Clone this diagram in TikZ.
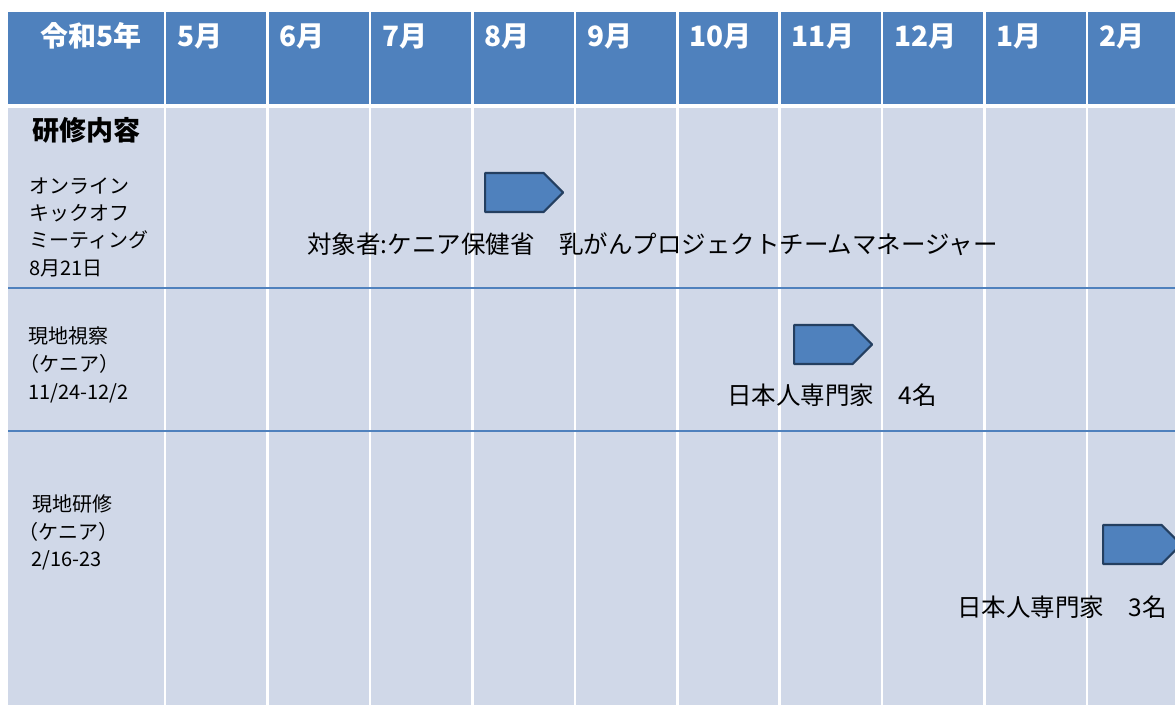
\documentclass[tikz,border=0pt]{standalone}
\usepackage{fontspec}
\setmainfont{Noto Sans CJK JP}
\usetikzlibrary{shapes.symbols}
\definecolor{hdr}{HTML}{4F81BD}
\definecolor{cell}{HTML}{D0D8E8}
\definecolor{edge}{HTML}{243F60}
\tikzset{
  hdrtxt/.style={text=white, font=\fontsize{28}{32}\selectfont\bfseries, inner sep=0pt},
  coltxt/.style={anchor=west, font=\fontsize{20}{24}\selectfont, inner sep=0pt},
  bigtxt/.style={anchor=west, font=\fontsize{24.5}{28}\selectfont, inner sep=0pt},
  bar/.style={signal, signal to=east, signal pointer angle=90, draw=edge, fill=hdr,
    line width=2.2pt, line join=round, minimum width=78pt, minimum height=39pt,
    inner sep=0pt, anchor=west},
  vsep/.style={white, line width=2.5pt},
  hsep/.style={hdr, line width=1.2pt}
}
\begin{document}
\begin{tikzpicture}[x=1pt,y=-1pt]
\useasboundingbox (0,0) rectangle (1175,704);
\fill[white] (0,0) rectangle (1175,704);
\fill[hdr] (8,12) rectangle (1185,104);
\fill[cell] (8,108) rectangle (1185,710);
\foreach \i in {0,...,9}
  \draw[vsep] ({165+102.45*\i},10) -- ({165+102.45*\i},710);
\draw[hsep] (8,288) -- (1185,288);
\draw[hsep] (8,431) -- (1185,431);

% header
\node[hdrtxt] (h0) at (91,36) {令和5年};
\foreach \m [count=\i from 0] in {5月,6月,7月,8月,9月,10月,11月,12月,1月,2月}
  \node[hdrtxt, anchor=west] (m\i) at ({165+102.45*\i+12},36) {\m};

% left column
\node[font=\fontsize{27}{30}\selectfont\bfseries, inner sep=0pt] (t0) at (86,130) {研修内容};
\node[coltxt] (a1) at (29,186) {オンライン};
\node[coltxt] (a2) at (29,213) {キックオフ};
\node[coltxt] (a3) at (29,240) {ミーティング};
\node[coltxt] (a4) at (29,268) {8月21日};
\node[coltxt] (b1) at (28,336) {現地視察};
\node[coltxt] (b2) at (19,364) {（ケニア）};
\node[coltxt] (b3) at (28,393) {11/24-12/2};
\node[coltxt] (c1) at (32,504) {現地研修};
\node[coltxt] (c2) at (18,532) {（ケニア）};
\node[coltxt] (c3) at (31,560) {2/16-23};

% bars
\node[bar] (r1) at (484,192.5) {};
\node[bar] (r2) at (793,344.5) {};
\node[bar] (r3) at (1102,544.5) {};

% descriptions
\node[bigtxt] (d1) at (307,244) {対象者:ケニア保健省　乳がんプロジェクトチームマネージャー};
\node[bigtxt] (d2) at (727,395) {日本人専門家　4名};
\node[bigtxt] (d3) at (957,607) {日本人専門家　3名};
\end{tikzpicture}
\end{document}
